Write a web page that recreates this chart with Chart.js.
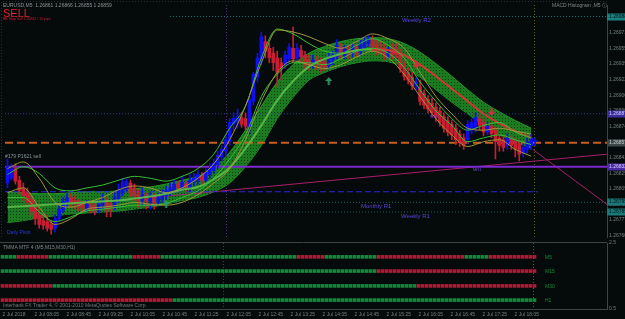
<!DOCTYPE html>
<html><head><meta charset="utf-8">
<script src="https://cdn.jsdelivr.net/npm/chart.js@4.4.1/dist/chart.umd.min.js"></script>
<style>
html,body{margin:0;padding:0;background:#050a0a;}
body{width:625px;height:319px;position:relative;overflow:hidden}
canvas{position:absolute;left:0}
#main{top:0}
#sub{top:236px}
</style></head><body>
<canvas id="main" width="625" height="242"></canvas>
<canvas id="sub" width="625" height="83"></canvas>
<script>
// ---------------- DATA ----------------
const headerText = "EURUSD,M5  1.26861 1.26866 1.26855 1.26859";
const timeLabels = ["2 Jul 2018","2 Jul 08:05","2 Jul 08:45","2 Jul 09:25","2 Jul 10:05","2 Jul 10:45","2 Jul 11:25","2 Jul 12:05","2 Jul 12:45","2 Jul 13:25","2 Jul 14:05","2 Jul 14:45","2 Jul 15:25","2 Jul 16:05","2 Jul 16:45","2 Jul 17:25","2 Jul 18:05"];
const labelBars = [0,8,16,24,32,40,48,56,64,72,80,88,96,104,112,120,128];
const priceTicks = [1.26971,1.26955,1.26939,1.26922,1.26906,1.26890,1.26874,1.26858,1.26841,1.26825,1.26809,1.26793,1.26777,1.26760];

const opens = [1.26815,1.26820,1.26830,1.26818,1.26810,1.26805,1.26798,1.26790,1.26782,1.26776,
 1.26775,1.26772,1.26768,1.26778,1.26787,1.26795,1.26800,1.26797,1.26794,1.26792,
 1.26789,1.26792,1.26789,1.26787,1.26792,1.26795,1.26792,1.26790,1.26798,1.26805,
 1.26810,1.26815,1.26810,1.26804,1.26797,1.26802,1.26796,1.26801,1.26795,1.26799,
 1.26802,1.26806,1.26808,1.26814,1.26810,1.26814,1.26810,1.26816,1.26818,1.26822,
 1.26818,1.26824,1.26828,1.26834,1.26842,1.26848,1.26858,1.26876,1.26878,1.26883,
 1.26882,1.26872,1.26900,1.26925,1.26942,1.26962,1.26955,1.26950,1.26945,1.26940,
 1.26938,1.26944,1.26955,1.26945,1.26953,1.26948,1.26942,1.26938,1.26943,1.26941,
 1.26940,1.26937,1.26943,1.26946,1.26956,1.26948,1.26954,1.26950,1.26955,1.26952,
 1.26956,1.26960,1.26964,1.26960,1.26956,1.26955,1.26948,1.26954,1.26956,1.26950,
 1.26938,1.26930,1.26925,1.26916,1.26915,1.26908,1.26902,1.26898,1.26894,1.26890,
 1.26884,1.26880,1.26876,1.26872,1.26866,1.26862,1.26860,1.26870,1.26872,1.26882,
 1.26878,1.26868,1.26874,1.26870,1.26862,1.26860,1.26854,1.26860,1.26858,1.26856,
 1.26846,1.26850,1.26854,1.26858];
const highs = [1.26840,1.26835,1.26835,1.26822,1.26815,1.26810,1.26802,1.26796,1.26788,1.26783,
 1.26782,1.26776,1.26782,1.26792,1.26800,1.26804,1.26804,1.26802,1.26798,1.26796,
 1.26797,1.26796,1.26794,1.26797,1.26804,1.26800,1.26796,1.26805,1.26814,1.26820,
 1.26819,1.26818,1.26814,1.26808,1.26810,1.26805,1.26805,1.26804,1.26804,1.26808,
 1.26812,1.26815,1.26818,1.26817,1.26822,1.26817,1.26824,1.26825,1.26828,1.26826,
 1.26830,1.26835,1.26840,1.26848,1.26854,1.26865,1.26882,1.26888,1.26892,1.26888,
 1.26888,1.26905,1.26930,1.26950,1.26972,1.26968,1.26960,1.26956,1.26952,1.26945,
 1.26952,1.26960,1.26977,1.26960,1.26958,1.26952,1.26948,1.26948,1.26947,1.26945,
 1.26944,1.26950,1.26952,1.26964,1.26960,1.26958,1.26958,1.26960,1.26959,1.26964,
 1.26967,1.26968,1.26968,1.26964,1.26962,1.26960,1.26956,1.26960,1.26960,1.26954,
 1.26942,1.26935,1.26930,1.26924,1.26922,1.26912,1.26906,1.26903,1.26898,1.26894,
 1.26888,1.26884,1.26880,1.26876,1.26870,1.26866,1.26880,1.26882,1.26888,1.26886,
 1.26882,1.26878,1.26878,1.26874,1.26866,1.26864,1.26866,1.26864,1.26862,1.26860,
 1.26856,1.26862,1.26866,1.26862];
const lows = [1.26810,1.26818,1.26814,1.26804,1.26797,1.26792,1.26782,1.26772,1.26768,1.26767,
 1.26765,1.26762,1.26764,1.26775,1.26784,1.26790,1.26790,1.26788,1.26786,1.26785,
 1.26786,1.26784,1.26782,1.26784,1.26788,1.26780,1.26780,1.26787,1.26795,1.26802,
 1.26807,1.26801,1.26797,1.26790,1.26792,1.26788,1.26788,1.26788,1.26792,1.26795,
 1.26798,1.26802,1.26805,1.26807,1.26807,1.26806,1.26806,1.26812,1.26814,1.26814,
 1.26815,1.26820,1.26825,1.26830,1.26838,1.26843,1.26854,1.26870,1.26872,1.26873,
 1.26870,1.26866,1.26896,1.26920,1.26938,1.26945,1.26940,1.26932,1.26915,1.26922,
 1.26934,1.26940,1.26940,1.26942,1.26940,1.26934,1.26932,1.26934,1.26933,1.26930,
 1.26932,1.26934,1.26938,1.26944,1.26944,1.26944,1.26944,1.26946,1.26946,1.26948,
 1.26953,1.26957,1.26952,1.26948,1.26950,1.26943,1.26945,1.26944,1.26945,1.26930,
 1.26922,1.26918,1.26912,1.26912,1.26896,1.26892,1.26888,1.26884,1.26879,1.26874,
 1.26868,1.26864,1.26860,1.26855,1.26853,1.26850,1.26856,1.26866,1.26868,1.26870,
 1.26864,1.26865,1.26862,1.26840,1.26848,1.26848,1.26850,1.26850,1.26842,1.26838,
 1.26842,1.26846,1.26850,1.26854];
const closes = [1.26832,1.26830,1.26817,1.26807,1.26802,1.26795,1.26786,1.26778,1.26772,1.26771,
 1.26768,1.26767,1.26778,1.26788,1.26796,1.26800,1.26794,1.26793,1.26790,1.26789,
 1.26793,1.26787,1.26786,1.26793,1.26796,1.26790,1.26788,1.26800,1.26808,1.26816,
 1.26817,1.26805,1.26802,1.26797,1.26803,1.26796,1.26802,1.26794,1.26800,1.26804,
 1.26807,1.26810,1.26814,1.26810,1.26816,1.26810,1.26818,1.26820,1.26824,1.26818,
 1.26826,1.26830,1.26836,1.26844,1.26850,1.26860,1.26878,1.26882,1.26884,1.26876,
 1.26874,1.26902,1.26928,1.26945,1.26967,1.26952,1.26945,1.26940,1.26930,1.26934,
 1.26948,1.26956,1.26944,1.26955,1.26946,1.26938,1.26937,1.26943,1.26938,1.26936,
 1.26936,1.26945,1.26948,1.26958,1.26950,1.26954,1.26948,1.26956,1.26950,1.26960,
 1.26963,1.26965,1.26956,1.26952,1.26954,1.26948,1.26954,1.26947,1.26948,1.26934,
 1.26926,1.26922,1.26916,1.26920,1.26900,1.26896,1.26892,1.26888,1.26884,1.26878,
 1.26872,1.26868,1.26865,1.26860,1.26857,1.26854,1.26876,1.26878,1.26883,1.26875,
 1.26868,1.26874,1.26866,1.26858,1.26854,1.26852,1.26862,1.26854,1.26850,1.26845,
 1.26852,1.26858,1.26862,1.26859];

// indicator lines, sampled every 4 bars
const lineBars = [0,4,8,12,16,20,24,28,32,36,40,44,48,52,56,60,64,68,72,76,80,84,88,92,96,100,104,108,112,116,120,124,128,132];
const bandUpper = [1.26806,1.26805,1.26804,1.26804,1.26805,1.26806,1.26806,1.26807,1.26809,1.26811,1.26814,1.26818,1.26822,1.26831,1.26847,1.26870,1.26895,1.26920,1.26938,1.26950,1.26957,1.26962,1.26965,1.26966,1.26965,1.26960,1.26951,1.26939,1.26926,1.26912,1.26899,1.26889,1.26880,1.26872];
const bandLower = [1.26774,1.26776,1.26779,1.26781,1.26783,1.26784,1.26785,1.26786,1.26788,1.26790,1.26793,1.26797,1.26800,1.26806,1.26815,1.26832,1.26854,1.26882,1.26904,1.26922,1.26930,1.26936,1.26940,1.26942,1.26941,1.26935,1.26925,1.26912,1.26899,1.26887,1.26875,1.26865,1.26858,1.26851];
const bandMid = [1.26790,1.26791,1.26792,1.26793,1.26794,1.26795,1.26796,1.26797,1.26799,1.26801,1.26804,1.26808,1.26811,1.26819,1.26831,1.26851,1.26875,1.26901,1.26921,1.26936,1.26944,1.26949,1.26953,1.26954,1.26953,1.26948,1.26938,1.26926,1.26913,1.26900,1.26887,1.26877,1.26869,1.26862];
const oliveUpper = [1.26830,1.26837,1.26820,1.26795,1.26790,1.26795,1.26800,1.26808,1.26812,1.26810,1.26805,1.26810,1.26820,1.26835,1.26860,1.26895,1.26940,1.26974,1.26972,1.26967,1.26960,1.26955,1.26962,1.26970,1.26965,1.26955,1.26930,1.26905,1.26887,1.26872,1.26870,1.26872,1.26869,1.26866];
const oliveLower = [1.26805,1.26810,1.26790,1.26772,1.26778,1.26788,1.26790,1.26792,1.26795,1.26793,1.26792,1.26795,1.26803,1.26815,1.26830,1.26860,1.26900,1.26930,1.26942,1.26938,1.26934,1.26938,1.26946,1.26952,1.26945,1.26928,1.26905,1.26882,1.26865,1.26853,1.26858,1.26860,1.26850,1.26843];
const greenUpper = [1.26824,1.26832,1.26825,1.26810,1.26807,1.26810,1.26813,1.26818,1.26822,1.26820,1.26817,1.26822,1.26830,1.26845,1.26872,1.26895,1.26945,1.26975,1.26970,1.26960,1.26952,1.26950,1.26958,1.26965,1.26958,1.26945,1.26920,1.26900,1.26882,1.26870,1.26875,1.26878,1.26868,1.26862];
const greenLower = [1.26800,1.26800,1.26785,1.26775,1.26780,1.26786,1.26788,1.26790,1.26792,1.26792,1.26794,1.26800,1.26807,1.26820,1.26840,1.26865,1.26905,1.26928,1.26940,1.26940,1.26938,1.26944,1.26952,1.26955,1.26950,1.26935,1.26912,1.26890,1.26875,1.26858,1.26862,1.26865,1.26860,1.26855];

// horizontal levels
const levelWeeklyR2 = 1.26988;
const levelDailyR1 = 1.26887;
const levelBid = 1.26857;
const levelPurple = 1.26832;
const levelDailyPivot = 1.26806;
const levelMonthlyR1 = 1.26795;
const levelWeeklyR1 = 1.26785;

// trendlines [bar, price]
const trendA = [[34,1.26799],[151.1,1.26845]];
const trendB = [[132.4,1.26850],[151.1,1.26793]];

// signal arrows [bar, price]
const arrowsUp = [[40,1.26793],[81,1.26921]];
const arrowsDown = [[103,1.26938],[122,1.26889]];

// period separators (bar positions)
const separatorBars = [55.1,132.6];

// MTF sub window states (G = green / up, R = red / down)
const tfNames = ["M5","M15","M30","H1"];
const tfStates = [
 "GGGG RRRRRRRR GGGGGGGGGG GGGGGGGGGG G RRRRRRR GGGGGGGGGG GGGGGGGGGG GGGGGGGGGG GGGG RRRRRRR GGGGGGGGGG GGG RRRRRRRRRR RRRRRRRRRR RR GGGGGG RRRRRRRRRR RR",
 "GGGGGGGGGG GGGGGGGGGG GGGGGGGGGG GGGGGGGGGG GGGGGGGGGG GGGGGGGGGG GGGGGGGGGG GGGGGGGGGG GGGGGGGGGG GGGG RRRRRRRRRR RRRRRRRRRR RRRRRRRRRR RRRRRRRRRR",
 "RRRRRRRRRR RRR GGGGGGGGGG GGGGGGGGGG GGGGGGGGGG GGGGGGGGGG GGGGGGGGGG GGGGGGGGGG GGGGGGGGGG GGGGGGGGGG GGGGGGGGGG G RRRRRRRRRR RRRRRRRRRR RRRRRRRRRR",
 "RRRRRRRRRR RRRRRRRRRR RRRRRRRRRR RRRRRRRRRR RRR GGGGGGGGGG GGGGGGGGGG GGGGGGGGGG GGGGGGGGGG GGGGGGGGGG GGGGGGGGGG GGGGGGGGGG GGGGGGGGGG GGGGGGGGGG G"
];
const tfRows = [2.08,1.65,1.2,0.77];
const subTicks = [2.5,0.5];

// ---------------- RENDER ----------------
const X_MIN = -0.625, X_MAX = 151.125;
const UP = '#1010ee', DN = '#c81e32';
const FONT = '"Liberation Sans", Arial, sans-serif';

function pattern(){
  const c=document.createElement('canvas'); c.width=3; c.height=3;
  const g=c.getContext('2d'); g.fillStyle='#1a7c1e'; g.fillRect(0,0,3,3);
  g.fillStyle='#0a3a0d'; g.fillRect(1,1,1,1);
  return g.createPattern(c,'repeat');
}
function arrowImg(color, up){
  const c=document.createElement('canvas'); c.width=7; c.height=8;
  const g=c.getContext('2d'); g.fillStyle=color; g.beginPath();
  if(up){ g.moveTo(3.5,0); g.lineTo(7,4); g.lineTo(4.5,4); g.lineTo(4.5,8); g.lineTo(2.5,8); g.lineTo(2.5,4); g.lineTo(0,4); }
  else { g.moveTo(3.5,8); g.lineTo(7,4); g.lineTo(4.5,4); g.lineTo(4.5,0); g.lineTo(2.5,0); g.lineTo(2.5,4); g.lineTo(0,4); }
  g.closePath(); g.fill(); return c;
}
function txt(ctx,s,x,y,color,size,opt){
  opt=opt||{}; ctx.save(); ctx.font=(opt.bold?'bold ':'')+size+'px '+FONT;
  ctx.fillStyle=color; ctx.textBaseline='middle'; ctx.textAlign=opt.align||'left'; ctx.fillText(s,x,y); ctx.restore();
}
const pts = arr => arr.map((v,k)=>({x:lineBars[k], y:v}));
const hline = (x0,x1,v,color,dash,w,order) => ({type:'line', data:[{x:x0,y:v},{x:x1,y:v}], borderColor:color, borderDash:dash, borderWidth:w, pointRadius:0, order:order});
const candleColors = closes.map((c,i)=> c>=opens[i] ? UP : DN);

const mainDatasets = [
  {type:'line', data:arrowsUp.map(a=>({x:a[0],y:a[1]})), showLine:false, pointStyle:arrowImg('#2e9a6a',true), pointRadius:4, order:0},
  {type:'line', data:arrowsDown.map(a=>({x:a[0],y:a[1]})), showLine:false, pointStyle:arrowImg('#e0283c',false), pointRadius:4, order:0},
  {type:'line', data:pts(oliveUpper), borderColor:'#a0963c', borderWidth:1, pointRadius:0, cubicInterpolationMode:'monotone', order:1},
  {type:'line', data:pts(oliveLower), borderColor:'#a0963c', borderWidth:1, pointRadius:0, cubicInterpolationMode:'monotone', order:1},
  {type:'line', data:pts(greenUpper), borderColor:'#36c036', borderWidth:1, pointRadius:0, cubicInterpolationMode:'monotone', order:1},
  {type:'line', data:pts(greenLower), borderColor:'#36c036', borderWidth:1, pointRadius:0, cubicInterpolationMode:'monotone', order:1},
  {type:'line', data:pts(bandMid), borderWidth:2, pointRadius:0, cubicInterpolationMode:'monotone', order:1,
     borderColor:'#58b448', segment:{borderColor: c => c.p1.parsed.y < c.p0.parsed.y ? '#d83434' : '#58b448'}},
  {type:'bar', data:opens.map((o,i)=>({x:i,y:[o,closes[i]]})), backgroundColor:candleColors, barThickness:3, grouped:false, minBarLength:1, order:2},
  {type:'bar', data:lows.map((l,i)=>({x:i,y:[l,highs[i]]})), backgroundColor:candleColors, barThickness:1, grouped:false, order:3},
  hline(41,X_MAX,levelWeeklyR2,'#1f7878',[1,2],1,4),
  hline(X_MIN,X_MAX,levelDailyR1,'#2c3c8c',[1,2],1,4),
  hline(X_MIN,X_MAX,levelBid,'#cc5e1e',[8,4],2,4),
  hline(X_MIN,X_MAX,levelPurple,'#7c2ad0',[],2,4),
  hline(X_MIN,133.7,levelDailyPivot,'#2a2ad0',[6,3],1,4),
  hline(X_MIN,X_MAX,levelMonthlyR1,'#1f5c5c',[1,2],1,4),
  hline(X_MIN,X_MAX,levelWeeklyR1,'#1f5c5c',[1,2],1,4),
  {type:'line', data:trendA.map(p=>({x:p[0],y:p[1]})), borderColor:'#a8206c', borderWidth:1, pointRadius:0, order:4},
  {type:'line', data:trendB.map(p=>({x:p[0],y:p[1]})), borderColor:'#a8206c', borderWidth:1, pointRadius:0, order:4},
  {type:'line', data:pts(bandUpper), borderColor:'#249a2a', borderWidth:1, pointRadius:0, cubicInterpolationMode:'monotone', fill:'+1', backgroundColor:pattern(), order:5},
  {type:'line', data:pts(bandLower), borderColor:'#249a2a', borderWidth:1, pointRadius:0, cubicInterpolationMode:'monotone', fill:false, order:5}
];

const separatorPlugin = {
  id:'sep',
  beforeDatasetsDraw(chart){
    const {ctx, chartArea:a, scales:{x}} = chart;
    const cols=['#5c2a7c','#5e5e1c'];
    ctx.save(); ctx.setLineDash([1,2]); ctx.lineWidth=1;
    separatorBars.forEach((b,k)=>{ const px=Math.round(x.getPixelForValue(b))+0.5; ctx.strokeStyle=cols[k]; ctx.beginPath(); ctx.moveTo(px,a.top); ctx.lineTo(px,a.bottom); ctx.stroke(); });
    ctx.restore();
  }
};

const mainOverlay = {
  id:'mainOverlay',
  afterDraw(chart){
    const {ctx, chartArea:a, scales:{y}} = chart;
    ctx.save();
    ctx.strokeStyle='#243030'; ctx.setLineDash([1,2]); ctx.lineWidth=1;
    ctx.beginPath(); ctx.moveTo(1.5,a.bottom); ctx.lineTo(1.5,1.5); ctx.lineTo(a.right,1.5); ctx.stroke();
    ctx.restore();
    txt(ctx, headerText, 3, 6, '#8a9898', 5);
    txt(ctx, 'SELL', 3, 13.5, '#e3202c', 11);
    txt(ctx, 'BB Stop Sell 1.26862 / 15 pips', 3, 19, '#c81e32', 3.5);
    txt(ctx, 'MACD Histogram ,M5 \u24D8', 552, 6, '#7c8a8a', 5);
    txt(ctx, 'Weekly R2', 402, y.getPixelForValue(levelWeeklyR2)+4, '#5a44e6', 6);
    txt(ctx, 'Monthly R1', 361, y.getPixelForValue(levelMonthlyR1)+4, '#5a44d8', 6);
    txt(ctx, 'Weekly R1', 401, y.getPixelForValue(levelWeeklyR1)+4, '#5a44d8', 6);
    txt(ctx, 'Daily Pivot', 7, 233, '#2a3ad8', 5);
    txt(ctx, '#179 P1621 sell', 5, 157, '#8a9898', 5);
    txt(ctx, 'WR1', 430, 117, '#6a48d8', 4);
    txt(ctx, 'MR1', 473, 170, '#6a48d8', 4);
    const boxes = [[levelWeeklyR2,'#1b8080','#021414'],[levelDailyR1,'#3c2c9c','#d0d0ff'],[levelBid,'#3c4848','#c8d0d0'],
                   [levelPurple,'#4c2ca4','#d8d0ff'],[levelMonthlyR1,'#1b7878','#021414'],[levelWeeklyR1,'#1b7878','#021414']];
    boxes.forEach(b=>{ const py=Math.round(y.getPixelForValue(b[0])); ctx.fillStyle=b[1]; ctx.fillRect(a.right,py-3.5,18,7); txt(ctx,b[0].toFixed(5),a.right+2,py,b[2],5); });
  }
};

new Chart(document.getElementById('main'), {
  type:'bar',
  data:{datasets:mainDatasets},
  options:{
    responsive:false, animation:false, devicePixelRatio:1,
    layout:{padding:0},
    plugins:{legend:{display:false}, tooltip:{enabled:false}},
    scales:{
      x:{type:'linear', min:X_MIN, max:X_MAX, offset:false, display:false},
      y:{position:'right', min:1.26759, max:1.27000,
         grid:{display:false, drawTicks:false}, border:{display:true, color:'#3a4646'},
         afterBuildTicks:s=>{ s.ticks = priceTicks.map(v=>({value:v})); },
         afterFit:s=>{ s.width=18; s.paddingTop=0; s.paddingBottom=0; },
         ticks:{padding:2, color:'#728080', font:{family:FONT, size:5}, callback:v=>Number(v).toFixed(5)}}
    }
  },
  plugins:[separatorPlugin, mainOverlay]
});

// ---------------- SUB WINDOW ----------------
const subDatasets = tfStates.map((s,r)=>{
  const st = s.replace(/ /g,'').split('');
  return {type:'bar', data:st.map((c,i)=>({x:i, y:[tfRows[r]-0.045, tfRows[r]+0.045]})),
          backgroundColor:st.map(c=> c==='G' ? '#138a3a' : '#b01a34'), barThickness:3, grouped:false};
});
const subOverlay = {
  id:'subOverlay',
  afterDraw(chart){
    const {ctx, chartArea:a, scales:{y}} = chart;
    ctx.save(); ctx.strokeStyle='#3a4646'; ctx.lineWidth=1;
    ctx.beginPath(); ctx.moveTo(0,a.top-0.5); ctx.lineTo(a.right,a.top-0.5); ctx.stroke(); ctx.restore();
    txt(ctx,'TMMA MTF 4 (M5,M15,M30,H1)',3,a.top+4.5,'#7c8a8a',5);
    tfNames.forEach((n,r)=> txt(ctx,n,545,y.getPixelForValue(tfRows[r])+1,'#1a8a3a',5));
    txt(ctx,'Interbank FX Trader 4, \u00A9 2001-2010 MetaQuotes Software Corp.',3,a.bottom-3,'#6c7a7a',5);
  }
};
new Chart(document.getElementById('sub'), {
  type:'bar',
  data:{datasets:subDatasets},
  options:{
    responsive:false, animation:false, devicePixelRatio:1,
    layout:{padding:{top:7,left:0,right:0,bottom:0}},
    plugins:{legend:{display:false}, tooltip:{enabled:false}},
    scales:{
      x:{type:'linear', min:X_MIN, max:X_MAX, offset:false,
         grid:{display:false, drawTicks:false}, border:{display:true, color:'#3a4646'},
         afterBuildTicks:s=>{ s.ticks = labelBars.map(v=>({value:v})); },
         afterFit:s=>{ s.height=10; s.paddingLeft=0; s.paddingRight=0; },
         ticks:{autoSkip:false, maxRotation:0, minRotation:0, align:'start', padding:3, color:'#728080', font:{family:FONT,size:5},
                callback:(v,i)=>timeLabels[i]}},
      y:{position:'right', min:0.5, max:2.5,
         grid:{display:false, drawTicks:false}, border:{display:true, color:'#3a4646'},
         afterBuildTicks:s=>{ s.ticks = subTicks.map(v=>({value:v})); },
         afterFit:s=>{ s.width=18; s.paddingTop=0; s.paddingBottom=0; },
         ticks:{padding:2, color:'#728080', font:{family:FONT,size:5}, callback:v=>Number(v).toFixed(1)}}
    }
  },
  plugins:[separatorPlugin, subOverlay]
});
</script>
</body></html>
